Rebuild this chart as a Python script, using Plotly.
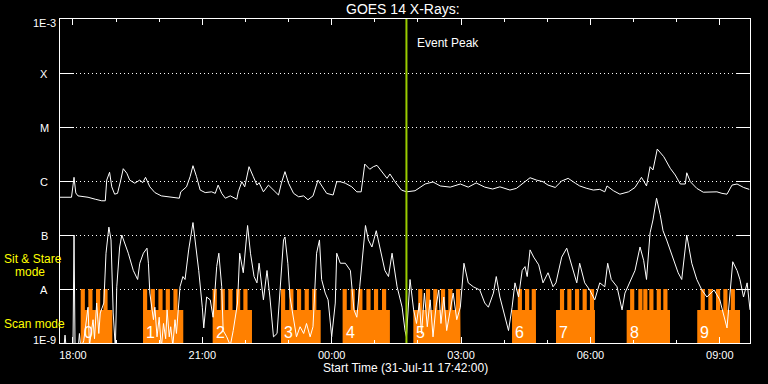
import numpy as np
import pandas as pd
import plotly.graph_objects as go

START = pd.Timestamp("2011-07-31 17:42:00")
END = pd.Timestamp("2011-08-01 09:42:00")
EVENT_PEAK = pd.Timestamp("2011-08-01 01:44:00")

# GOES 14 long channel (1-8 A): minutes after start, flux (W/m^2)
long_min = [0, 16, 19.5, 22, 25, 39, 49, 58, 63, 65, 69, 72, 76, 80, 84, 88, 93, 97, 104, 111,
            115, 119, 125, 132, 141, 155, 166, 168, 176, 181, 185, 190, 195, 202, 211, 216, 220,
            225, 230, 237, 246, 248, 253, 257, 263, 269, 274, 277, 283, 290, 297, 304, 308, 313,
            318, 325, 332, 339, 345, 352, 359, 364, 371, 380, 385, 390, 397, 406, 413, 419, 424,
            431, 436, 441, 448, 455, 459, 466, 475, 482, 494, 508, 519, 529, 543, 557, 568, 579,
            591, 602, 612, 626, 635, 645, 654, 663, 672, 679, 689, 698, 707, 717, 723, 733, 742,
            751, 758, 761, 770, 779, 791, 800, 809, 816, 821, 825, 831, 840, 849, 856, 863, 870,
            872, 877, 886, 895, 914, 921, 928, 935, 942, 951, 959]
long_flux = [5.0e-7, 5.0e-7, 1.17e-6, 6.0e-7, 5.3e-7, 5.0e-7, 4.6e-7, 4.3e-7, 4.3e-7, 1.04e-6,
             1.45e-6, 7.8e-7, 5.7e-7, 5.9e-7, 9.7e-7, 1.69e-6, 1.39e-6, 1.04e-6, 9.1e-7, 1.04e-6,
             9.3e-7, 1.17e-6, 7.8e-7, 6.1e-7, 5.3e-7, 5.0e-7, 4.8e-7, 6.3e-7, 7.8e-7, 1.2e-6,
             1.92e-6, 1.2e-6, 6.8e-7, 6.1e-7, 6.3e-7, 5.9e-7, 8.4e-7, 5.9e-7, 4.8e-7, 5.3e-7,
             4.6e-7, 6.3e-7, 9.7e-7, 7.8e-7, 1.84e-6, 1.2e-6, 8.4e-7, 9.3e-7, 6.3e-7, 8.4e-7,
             6.8e-7, 5.5e-7, 9.1e-7, 1.49e-6, 9.1e-7, 5.9e-7, 5.1e-7, 5.3e-7, 4.5e-7, 5.3e-7,
             1.04e-6, 8.4e-7, 5.9e-7, 5.5e-7, 9.7e-7, 9.7e-7, 9.1e-7, 7.8e-7, 6.3e-7, 6.3e-7,
             2.06e-6, 1.65e-6, 1.84e-6, 1.95e-6, 1.49e-6, 1.12e-6, 1.35e-6, 9.7e-7, 6.8e-7, 6.3e-7,
             6.6e-7, 8.8e-7, 9.6e-7, 8.1e-7, 7.7e-7, 8.8e-7, 7.7e-7, 9.2e-7, 7.7e-7, 7.1e-7,
             7.8e-7, 6.8e-7, 7.3e-7, 9.1e-7, 1.15e-6, 1.04e-6, 9.7e-7, 8.4e-7, 7.6e-7, 1.0e-6,
             1.12e-6, 9.1e-7, 8.1e-7, 7.3e-7, 6.8e-7, 7.0e-7, 6.3e-7, 8.1e-7, 6.6e-7, 5.7e-7,
             6.3e-7, 7.6e-7, 1.17e-6, 8.1e-7, 1.84e-6, 1.6e-6, 3.9e-6, 2.82e-6, 1.72e-6, 1.29e-6,
             8.8e-7, 8.8e-7, 1.42e-6, 9.7e-7, 7.3e-7, 6.2e-7, 6.3e-7, 5.9e-7, 5.7e-7, 8.4e-7,
             8.8e-7, 7.6e-7, 7.0e-7]

# GOES 14 short channel (0.5-4 A): minutes after start, flux (W/m^2)
short_min = [0, 5, 7, 9, 18, 19.5, 21, 25, 27, 29, 33, 39, 41, 46, 48, 51, 54, 56, 61, 64, 68, 71,
             74, 77, 79, 83, 86, 90, 95, 102, 108, 111, 116, 121, 123, 125, 130, 132, 135, 138,
             141, 144, 147, 149, 152, 154, 157, 160, 162, 167, 171, 174, 179, 185, 188, 193, 198,
             200, 204, 209, 213, 218, 221, 225, 227, 232, 237, 241, 247, 250, 255, 261, 265, 270,
             274, 277, 283, 288, 292, 297, 302, 306, 311, 313, 317, 320, 325, 329, 334, 339, 343,
             348, 352, 357, 361, 364, 369, 373, 378, 383, 385, 390, 397, 404, 409, 413, 417, 422,
             425, 429, 434, 440, 445, 452, 457, 462, 469, 476, 480, 482, 487, 492, 496, 500, 503,
             507, 511, 515, 519, 523, 527, 530, 534, 538, 543, 547, 552, 557, 562, 568, 575, 584,
             591, 596, 603, 607, 612, 619, 624, 629, 633, 638, 643, 647, 650, 654, 659, 666, 672,
             679, 686, 690, 698, 705, 712, 719, 723, 730, 737, 744, 751, 758, 762, 767, 775, 782,
             786, 795, 800, 807, 812, 816, 821, 825, 830, 835, 839, 844, 853, 860, 865, 870, 872,
             879, 886, 893, 900, 910, 918, 928, 932, 936, 942, 946, 951, 956, 960]
short_flux = [7e-10, 7e-10, 1.4e-9, 7e-10, 7e-10, 1.0e-7, 7e-10, 7e-10, 1.5e-9, 8e-10, 1.1e-9,
              4.6e-9, 9e-10, 2.7e-9, 1.2e-9, 5.5e-9, 1.5e-9, 3.6e-9, 5.5e-9, 4.6e-8, 1.4e-7,
              8.1e-8, 3.6e-9, 8e-10, 1.1e-8, 6.0e-8, 1.0e-7, 7.1e-8, 4.6e-8, 2.2e-8, 1.5e-8,
              3.0e-8, 4.6e-8, 5.7e-8, 3.0e-8, 8.4e-9, 2.7e-9, 4.6e-9, 1.3e-9, 3.0e-9, 8e-10,
              2.3e-9, 1.2e-9, 4.1e-9, 1.3e-9, 2.0e-9, 9e-10, 2.7e-9, 1.5e-9, 1.1e-8, 1.7e-8,
              1.5e-8, 5.3e-8, 1.7e-7, 8.1e-8, 2.2e-8, 4.6e-9, 1.9e-9, 7.1e-9, 6.3e-9, 3.0e-9,
              2.6e-8, 4.6e-8, 1.1e-8, 1.7e-9, 1.3e-9, 9e-10, 1.7e-9, 5.5e-9, 4.6e-8, 2.0e-8,
              1.5e-7, 4.6e-8, 1.7e-8, 1.3e-8, 3.0e-8, 6.3e-9, 2.2e-8, 7.1e-9, 1.3e-9, 1.5e-9,
              1.1e-8, 8.1e-8, 9.2e-8, 3.0e-8, 7.1e-9, 2.7e-9, 1.3e-9, 2.0e-9, 1.5e-9, 2.3e-9,
              1.3e-9, 2.0e-9, 4.6e-8, 8.1e-8, 1.5e-8, 8.4e-9, 6.3e-9, 1.3e-9, 5.5e-9, 4.6e-8,
              3.0e-8, 3.0e-8, 2.2e-8, 4.1e-9, 3.0e-9, 1.1e-8, 6.0e-8, 1.5e-7, 8.1e-8, 6.0e-8,
              1.2e-7, 6.0e-8, 2.2e-8, 1.7e-8, 4.6e-8, 1.1e-8, 4.6e-9, 1.7e-9, 1.3e-9, 1.5e-8,
              4.1e-9, 2.3e-9, 5.5e-9, 1.5e-9, 8.4e-9, 2.0e-9, 6.3e-9, 1.3e-9, 4.6e-9, 9.6e-9,
              2.3e-9, 7.1e-9, 1.7e-9, 4.1e-9, 8.4e-9, 2.7e-9, 4.6e-9, 3.0e-8, 1.3e-8, 1.1e-8,
              9.6e-9, 5.5e-9, 4.6e-9, 8.4e-9, 1.7e-8, 7.1e-9, 3.0e-9, 1.7e-9, 4.6e-9, 1.3e-8,
              7.1e-9, 2.2e-8, 2.6e-8, 1.7e-8, 5.3e-8, 3.9e-8, 2.8e-8, 1.3e-8, 2.0e-8, 1.1e-8,
              1.3e-8, 3.9e-8, 5.7e-8, 2.6e-8, 1.3e-8, 3.0e-8, 1.3e-8, 9.6e-9, 6.3e-9, 1.3e-8,
              1.1e-8, 3.0e-8, 1.5e-8, 1.1e-8, 4.1e-9, 8.4e-9, 1.5e-8, 2.2e-8, 6.0e-8, 3.4e-8,
              1.5e-8, 1.1e-7, 1.9e-7, 4.8e-7, 2.4e-7, 1.2e-7, 8.1e-8, 3.7e-8, 2.0e-8, 1.5e-8,
              5.3e-8, 1.0e-7, 3.0e-8, 1.5e-8, 9.6e-9, 7.1e-9, 9.6e-9, 6.3e-9, 1.9e-9, 8.4e-9,
              3.2e-8, 2.2e-8, 1.5e-8, 7.1e-9, 1.3e-8, 4.1e-9]

# Observation blocks (minutes after start): scan-mode span and sit&stare teeth
block_label = ["0", "1", "2", "3", "4", "5", "6", "7", "8", "9"]
block_start = [28.8, 115.5, 212.4, 307.5, 393.2, 491.6, 628.9, 690.1, 788.4, 886.6]
block_end = [72.8, 171.5, 267.1, 362.7, 459.0, 557.5, 662.3, 744.3, 848.7, 946.1]
block_teeth = [
    [28.8, 39.4, 50.1, 60.4],
    [115.5, 126.2, 136.9, 147.1, 157.8],
    [212.4, 223.5, 234.2, 244.9, 255.1],
    [307.5, 319.0, 329.7, 340.4, 350.9],
    [393.2, 404.3, 415.0, 426.3, 436.8, 448.0],
    [498.4, 509.1, 519.3, 530.0, 540.2, 550.9],
    [636.9, 647.0, 656.3],
    [695.6, 705.8, 716.5, 727.1, 737.3],
    [793.2, 804.6, 811.5, 819.9, 830.2, 839.4],
    [891.4, 902.0, 912.7, 922.9, 933.2],
]
TOOTH_MIN = 5.8
FLOOR = 5e-10
SCAN_LEVEL = 4.1e-9
STARE_LEVEL = 1e-8

class_vals = [1e-9, 1e-8, 1e-7, 1e-6, 1e-5, 1e-4, 1e-3]
class_text = ["1E-9", "A", "B", "C", "M", "X", "1E-3"]

FONT = "Liberation Sans"
WHITE = "#ffffff"
ORANGE = "#ff8000"
YELLOW = "#ffff00"
PEAK = "#99cc00"

L, R, T, B = 60, 18, 19, 41
W, H = 768, 384
PW, PH = W - L - R, H - T - B


def px_x(p):
    return (p - L) / PW


def px_y(p):
    return (H - B - p) / PH


def to_time(mins):
    return START + pd.to_timedelta(np.asarray(mins, dtype=float), unit="m")


# build block polygons
poly_x, poly_y = [], []
for s, e, teeth in zip(block_start, block_end, block_teeth):
    xs = [s, s]
    ys = [FLOOR, SCAN_LEVEL]
    for t in teeth:
        t2 = min(t + TOOTH_MIN, e)
        xs += [t, t, t2, t2]
        ys += [SCAN_LEVEL, STARE_LEVEL, STARE_LEVEL, SCAN_LEVEL]
    xs += [e, e]
    ys += [SCAN_LEVEL, FLOOR]
    poly_x += list(to_time(xs)) + [None]
    poly_y += ys + [None]

fig = go.Figure()
fig.add_trace(go.Scatter(x=poly_x, y=poly_y, mode="lines", fill="toself",
                         fillcolor=ORANGE, line=dict(width=0, color=ORANGE),
                         hoverinfo="skip", showlegend=False))
fig.add_trace(go.Scatter(x=to_time(long_min), y=long_flux, mode="lines",
                         line=dict(color=WHITE, width=1), showlegend=False))
fig.add_trace(go.Scatter(x=to_time(short_min), y=short_flux, mode="lines",
                         line=dict(color=WHITE, width=1), showlegend=False))

fig.add_shape(type="line", xref="x", yref="paper", x0=EVENT_PEAK, x1=EVENT_PEAK,
              y0=0, y1=1, line=dict(color=PEAK, width=2), layer="above")

ann = []
# y class labels
for v, txt in zip(class_vals, class_text):
    shift = -1
    if txt == "1E-3":
        shift = -4
    if txt == "1E-9":
        shift = 3
    ann.append(dict(text=txt, xref="paper", x=px_x(44), xanchor="center",
                    yref="y", y=np.log10(v), yanchor="middle", yshift=shift,
                    showarrow=False, font=dict(color=WHITE, size=11, family=FONT)))
# block labels
for s, lab in zip(block_start, block_label):
    ann.append(dict(text=lab, xref="x", x=to_time([s])[0], xanchor="left", xshift=1,
                    yref="paper", y=px_y(332.5), yanchor="middle", showarrow=False,
                    font=dict(color=WHITE, size=16, family=FONT)))
# mode labels
ann.append(dict(text="Sit & Stare", xref="paper", x=px_x(2), xanchor="left",
                yref="paper", y=px_y(258.5), yanchor="middle", showarrow=False,
                font=dict(color=YELLOW, size=12, family=FONT)))
ann.append(dict(text="mode", xref="paper", x=px_x(13), xanchor="left",
                yref="paper", y=px_y(271.5), yanchor="middle", showarrow=False,
                font=dict(color=YELLOW, size=12, family=FONT)))
ann.append(dict(text="Scan mode", xref="paper", x=px_x(2), xanchor="left",
                yref="paper", y=px_y(323.5), yanchor="middle", showarrow=False,
                font=dict(color=YELLOW, size=12, family=FONT)))
# event peak
ann.append(dict(text="Event Peak", xref="x", x=EVENT_PEAK, xanchor="left", xshift=9,
                yref="paper", y=px_y(43), yanchor="middle", showarrow=False,
                font=dict(color=WHITE, size=12, family=FONT)))
# title and x title
ann.append(dict(text="GOES 14 X-Rays:", xref="paper", x=px_x(402.5), xanchor="center",
                yref="paper", y=px_y(9), yanchor="middle", showarrow=False,
                font=dict(color=WHITE, size=14, family=FONT)))
ann.append(dict(text="Start Time (31-Jul-11 17:42:00)", xref="paper", x=px_x(405),
                xanchor="center", yref="paper", y=px_y(368), yanchor="middle",
                showarrow=False, font=dict(color=WHITE, size=12, family=FONT)))

fig.update_layout(
    width=W, height=H,
    margin=dict(l=L, r=R, t=T, b=B, pad=0),
    paper_bgcolor="black", plot_bgcolor="black",
    showlegend=False,
    annotations=ann,
    xaxis=dict(type="date", range=[START, END], tickformat="%H:%M",
               tick0="2011-07-31 18:00:00", dtick=3 * 3600 * 1000,
               ticks="inside", ticklen=6, tickwidth=1, tickcolor=WHITE,
               ticklabelstandoff=2,
               showline=True, linecolor=WHITE, linewidth=1, mirror="ticks",
               showgrid=False, zeroline=False,
               tickfont=dict(color=WHITE, size=11, family=FONT),
               minor=dict(tick0="2011-07-31 18:00:00", dtick=3600 * 1000,
                          ticks="inside", ticklen=3, tickcolor=WHITE, showgrid=False)),
    yaxis=dict(type="log", range=[-9, -3], tickvals=class_vals, showticklabels=False,
               ticks="inside", ticklen=14, tickwidth=1, tickcolor=WHITE,
               showline=True, linecolor=WHITE, linewidth=1, mirror="ticks",
               showgrid=True, gridcolor=WHITE, gridwidth=1, griddash="1px,3px",
               zeroline=False),
)

fig.write_html("out.html")
